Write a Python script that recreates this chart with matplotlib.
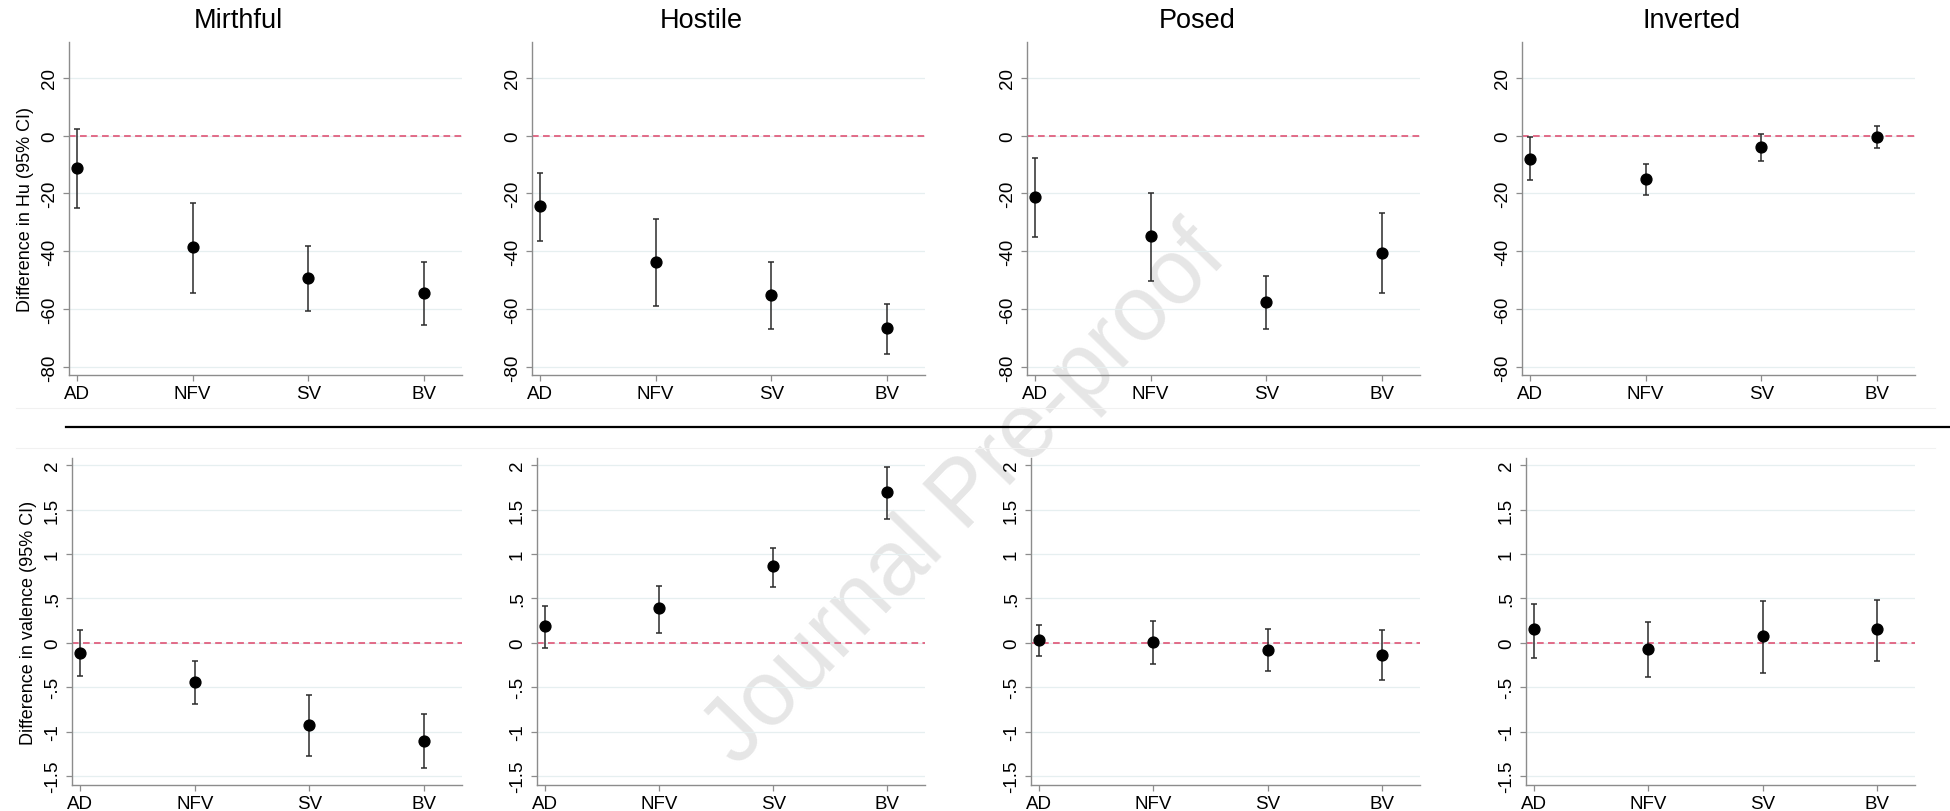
import numpy as np #imports numpy for array handling
import matplotlib
matplotlib.use("Agg") #no display, just write the file
import matplotlib.pyplot as plt
from matplotlib.lines import Line2D

plt.rcParams['font.family'] = ['Liberation Sans', 'DejaVu Sans'] #Arial-like text

# Categories on the x axis and panel titles
categories = ["AD", "NFV", "SV", "BV"]
emotions = ["Mirthful", "Hostile", "Posed", "Inverted"]

# Difference in Hu: estimate, lower and upper 95% CI (one row per emotion)
hu_est = [[-11.2, -38.6, -49.3, -54.3],
          [-24.5, -43.7, -55.0, -66.7],
          [-21.1, -34.8, -57.6, -40.7],
          [-8.0, -14.9, -3.9, -0.3]]
hu_lo = [[-25.1, -54.4, -60.8, -65.5],
         [-36.4, -58.8, -66.9, -75.5],
         [-35.0, -50.3, -67.0, -54.5],
         [-15.4, -20.6, -8.7, -4.4]]
hu_hi = [[2.3, -23.4, -38.2, -43.7],
         [-12.9, -29.0, -43.7, -58.2],
         [-7.6, -19.9, -48.4, -26.9],
         [-0.5, -9.7, 0.5, 3.2]]

# Difference in valence: estimate, lower and upper 95% CI
val_est = [[-0.12, -0.44, -0.92, -1.10],
           [0.19, 0.39, 0.86, 1.70],
           [0.03, 0.01, -0.08, -0.14],
           [0.15, -0.07, 0.08, 0.15]]
val_lo = [[-0.37, -0.69, -1.27, -1.41],
          [-0.06, 0.11, 0.63, 1.39],
          [-0.15, -0.24, -0.32, -0.42],
          [-0.17, -0.39, -0.34, -0.20]]
val_hi = [[0.14, -0.21, -0.59, -0.80],
          [0.41, 0.64, 1.07, 1.98],
          [0.20, 0.25, 0.15, 0.14],
          [0.44, 0.24, 0.47, 0.48]]

# y axis ticks for both rows
hu_ticks = [20, 0, -20, -40, -60, -80]
hu_ticklabels = ["20", "0", "-20", "-40", "-60", "-80"]
val_ticks = [2, 1.5, 1, 0.5, 0, -0.5, -1, -1.5]
val_ticklabels = ["2", "1.5", "1", ".5", "0", "-.5", "-1", "-1.5"]

W, H = 1950, 812 #figure size in pixels
fig = plt.figure(figsize=(W / 100, H / 100), dpi=100)

# panel boxes in pixels: left, right (top row and bottom row)
top_left = [69, 532, 1027, 1522]
top_right = [462, 925, 1420, 1915]
bot_left = [72, 537, 1031, 1526]
bot_right = [462, 925, 1420, 1915]

grey = "#8c8c8c"
x = np.arange(1, len(categories) + 1)

def draw_panel(ax, est, lo, hi, ticks, ticklabels, ylim):
    """draws one coefficient plot with CI whiskers and a dashed zero line"""
    est = np.array(est)
    yerr = np.vstack([est - np.array(lo), np.array(hi) - est])
    for t in ticks: #faint horizontal grid
        ax.axhline(t, color="#e6eff0", lw=0.9, zorder=0)
    ax.axhline(0, color="#e0607f", lw=1.3, ls=(0, (3.7, 2.4)), zorder=1) #reference line at zero
    ax.errorbar(x, est, yerr=yerr, fmt="o", color="black", ms=7.8,
                ecolor="#2b2b2b", elinewidth=1.1, capsize=2.4, capthick=1.1, zorder=3)
    ax.set_xlim(0.93, 4.33)
    ax.set_ylim(*ylim)
    ax.set_xticks(x)
    ax.set_xticklabels(categories, fontsize=13.5)
    ax.set_yticks(ticks)
    ax.set_yticklabels(ticklabels, fontsize=13.5, rotation=90, va="center")
    ax.set_facecolor("none")
    for side in ["top", "right"]:
        ax.spines[side].set_visible(False)
    for side in ["left", "bottom"]:
        ax.spines[side].set_color(grey)
        ax.spines[side].set_linewidth(1.0)
    ax.tick_params(axis="both", color=grey, length=4, width=0.9)
    ax.tick_params(axis="x", pad=3)
    ax.tick_params(axis="y", pad=4)

for i in range(4):
    # top row: Hu
    l, r = top_left[i], top_right[i]
    ax = fig.add_axes([l / W, (H - 376) / H, (r - l) / W, 333 / H])
    draw_panel(ax, hu_est[i], hu_lo[i], hu_hi[i], hu_ticks, hu_ticklabels, (-82.8, 32.4))
    if i == 0:
        ax.set_ylabel("Difference in Hu (95% CI)", fontsize=13, labelpad=5)
    fig.text((l + 0.432 * (r - l)) / W, 1 - 21 / H, emotions[i], fontsize=19.5,
             ha="center", va="center")

    # bottom row: valence
    l, r = bot_left[i], bot_right[i]
    ax = fig.add_axes([l / W, (H - 786) / H, (r - l) / W, 327 / H])
    draw_panel(ax, val_est[i], val_lo[i], val_hi[i], val_ticks, val_ticklabels, (-1.6, 2.08))
    if i == 0:
        ax.set_ylabel("Difference in valence (95% CI)", fontsize=13, labelpad=5)

# thick separator between the two rows, plus faint graph-region edges
fig.add_artist(Line2D([66 / W, 1], [1 - 428 / H] * 2, color="black", lw=1.6))
for yy in [409, 449]:
    fig.add_artist(Line2D([16 / W, 1935 / W], [1 - yy / H] * 2, color="#f1f1f1", lw=0.8))

# watermark across the middle, behind the axes
fig.text(966 / W, 1 - 496 / H, "Journal Pre-proof", fontsize=66, color="#e6e6e6",
         rotation=46, ha="center", va="center", zorder=-1)

fig.savefig("out.png", dpi=100, facecolor="white")
